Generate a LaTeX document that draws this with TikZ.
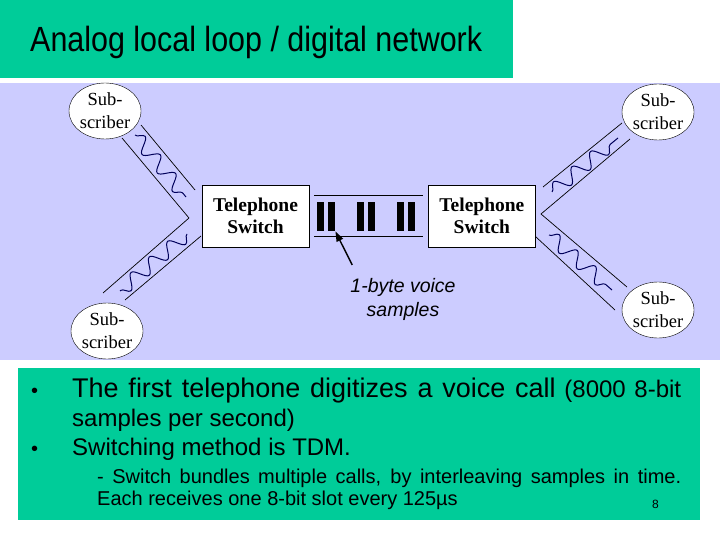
\documentclass[tikz,border=0pt]{standalone}
\usepackage{fontspec}
\setmainfont{Liberation Serif}
\setsansfont{Liberation Sans}
\newfontfamily\titlefont[FakeStretch=0.87]{Liberation Sans}
\usetikzlibrary{positioning, shapes.geometric, arrows.meta, decorations.pathmorphing}
\definecolor{verdetitulo}{RGB}{0,204,153}
\definecolor{lilafondo}{RGB}{204,204,255}
\definecolor{azulonda}{RGB}{0,0,90}

\begin{document}
\begin{tikzpicture}[
		x=1pt, y=-1pt,                              % 1 unidad = 1 pixel
		every node/.style = {text=black},
		abonado/.style = {
			ellipse,
			draw,
			thin,
			fill=white,
			minimum width=72pt,
			minimum height=56pt,
			inner sep=0pt,
			align=center,
			font=\fontsize{18.5}{23}\selectfont
		},
		central/.style = {
			rectangle,
			draw,
			thin,
			fill=white,
			minimum width=107pt,
			minimum height=62pt,
			inner sep=0pt,
			align=center,
			font=\bfseries\fontsize{19.5}{22}\selectfont
		},
		muestra/.style = {rectangle, fill=black, minimum width=7pt, minimum height=29pt, inner sep=0pt},
		linea/.style = {draw, line width=0.7pt},
		onda/.style = {draw=azulonda, line width=1pt, decorate,
			decoration={snake, segment length=24pt, amplitude=7pt}},
		texto/.style = {anchor=base west, inner sep=0pt, font=\sffamily\fontsize{24}{29}\selectfont}
		]
		
		\useasboundingbox (0,0) rectangle (720,540);
		\fill[white] (0,0) rectangle (720,540);
		
		% Fondos
		\fill[verdetitulo] (0,0) rectangle (513,78);
		\fill[lilafondo] (0,83) rectangle (720,360);
		\fill[verdetitulo] (18,368) rectangle (700,520);
		
		% Titulo
		\node[anchor=base west, inner sep=0pt, font=\titlefont\fontsize{35}{40}\selectfont] (titulo)
		at (30,52) {Analog local loop / digital network};
		
		% Puntos de los cables
		\coordinate (apexL) at (189,218);
		\coordinate (apexR) at (541,214);
		\coordinate (la1) at (141,125);  \coordinate (la2) at (195,190);
		\coordinate (lb1) at (122,138);
		\coordinate (lc2) at (103,293);
		\coordinate (ld1) at (201,236);  \coordinate (ld2) at (125,300);
		\coordinate (ra1) at (543,187);  \coordinate (ra2) at (622,123);
		\coordinate (rb2) at (630,139);
		\coordinate (rc2) at (627,287);
		\coordinate (rd1) at (536,237);  \coordinate (rd2) at (615,310);
		
		% Bucle local - izquierda
		\draw[linea] (la1) -- (la2);
		\draw[linea] (lb1) -- (apexL) -- (lc2);
		\draw[linea] (ld1) -- (ld2);
		\draw[onda] (135,135) -- (186,197);
		\draw[onda] (187,234) -- (120,291);
		
		% Bucle local - derecha
		\draw[linea] (ra1) -- (ra2);
		\draw[linea] (rb2) -- (apexR) -- (rc2);
		\draw[linea] (rd1) -- (rd2);
		\draw[onda] (552,192) -- (618,138);
		\draw[onda] (549,235) -- (612,290);
		
		% Abonados
		\node[abonado] (subtopleft) at (105,111) {Sub-\\scriber};
		\node[abonado] (subbottomleft) at (107,331) {Sub-\\scriber};
		\node[abonado] (subtopright) at (658,112) {Sub-\\scriber};
		\node[abonado] (subbottomright) at (658,310) {Sub-\\scriber};
		
		% Centrales
		\node[central] (switchleft) at (255.5,216) {Telephone\\Switch};
		\node[central, right=119pt of switchleft] (switchright) {Telephone\\Switch};
		
		% Enlace digital con muestras
		\draw[linea] ([shift={(5pt,-11pt)}]switchleft.north east) -- ([shift={(-5pt,-11pt)}]switchright.north west);
		\draw[linea] ([shift={(5pt,11pt)}]switchleft.south east) -- ([shift={(-5pt,11pt)}]switchright.south west);
		\foreach \sx [count=\i] in {317,328,357,368,397,408}
		\node[muestra, anchor=north west] (slot\i) at (\sx,202) {};
		
		\node[anchor=north, inner sep=0pt, align=center, font=\sffamily\itshape\fontsize{19.5}{24}\selectfont] (muestras)
		at (403,278) {1-byte voice\\samples};
		\draw[-{Triangle[length=10pt,width=7pt]}, line width=1.4pt]
		([shift={(2pt,13pt)}]muestras.north west) -- (slot2.south east);
		
		% Texto inferior
		\node[texto, font=\sffamily\fontsize{20}{24}\selectfont] (bala1) at (31,397) {\textbullet};
		\node[texto, text width=609pt, align=justify] (punto1) at (72,397)
		{{\fontsize{27}{29}\selectfont The first telephone digitizes a voice call} (8000 8-bit\linebreak samples per second)};
		\node[texto, font=\sffamily\fontsize{20}{24}\selectfont] (bala2) at (31,455) {\textbullet};
		\node[texto] (punto2) at (72,455) {Switching method is TDM.};
		\node[texto, font=\sffamily\fontsize{20}{22}\selectfont, text width=584pt, align=justify] (subpunto)
		at (97,483) {- Switch bundles multiple calls, by interleaving samples in time.\linebreak Each receives one 8-bit slot every 125µs};
		\node[texto, font=\sffamily\fontsize{12}{14}\selectfont] (pagina) at (652,508) {8};
		
	\end{tikzpicture}
\end{document}
